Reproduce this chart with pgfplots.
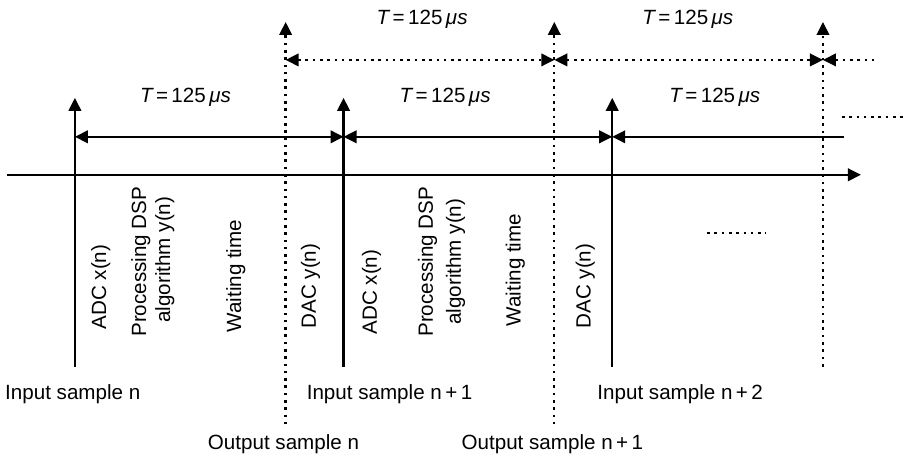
\documentclass[border=0pt]{standalone}
\usepackage{pgfplots}
\pgfplotsset{compat=1.18}
\usepackage{fontspec}
\setmainfont{Liberation Sans}
\usetikzlibrary{arrows.meta}

% pixel-space coordinates of the timing diagram (y measured downwards)
\pgfplotstableread{
x y
7 175
862 175
}\timeaxis

\begin{document}
\begin{tikzpicture}[
    lbl/.style={font=\fontsize{20.7}{24}\selectfont, inner sep=0pt},
    dots/.style={dash pattern=on 2.6bp off 4.7bp}
  ]
  \begin{axis}[
      x=1bp, y=1bp, y dir=reverse,
      xmin=0, xmax=905, ymin=0, ymax=455,
      hide axis, clip=false, no markers,
      every axis plot/.append style={black, line width=2.3bp,
        >={Triangle[length=13bp,width=12.5bp]}}
    ]
    % frame of the picture (invisible)
    \addplot[draw=none] coordinates {(0,0) (905,455)};

    % time axis
    \addplot[->] table {\timeaxis};

    % input samples (solid)
    \addplot[->] coordinates {(75,367) (75,98)};
    \addplot[->] coordinates {(344,367) (344,98)};
    \addplot[->] coordinates {(613,367) (613,98)};

    % output samples (dotted)
    \addplot[dots,->] coordinates {(286,425) (286,22)};
    \addplot[dots,->] coordinates {(555,425) (555,22)};
    \addplot[dots,->] coordinates {(824,367) (824,22)};

    % input periods
    \addplot[<->] coordinates {(75,137) (344,137)};
    \addplot[<->] coordinates {(344,137) (613,137)};
    \addplot[<-] coordinates {(613,137) (845,137)};

    % output periods
    \addplot[dots,<->] coordinates {(286,60) (555,60)};
    \addplot[dots,<->] coordinates {(555,60) (824,60)};
    \addplot[dots,<-] coordinates {(824,60) (877,60)};

    % continuation dots
    \addplot[dots] coordinates {(843,117) (905,117)};
    \addplot[dots] coordinates {(708,233) (767,233)};

    % period labels
    \node[lbl, anchor=base west] at (140,103) {{\itshape T}\,=\,125\,{\itshape μs}};
    \node[lbl, anchor=base west] at (400,103) {{\itshape T}\,=\,125\,{\itshape μs}};
    \node[lbl, anchor=base west] at (670,103) {{\itshape T}\,=\,125\,{\itshape μs}};
    \node[lbl, anchor=base west] at (377,25) {{\itshape T}\,=\,125\,{\itshape μs}};
    \node[lbl, anchor=base west] at (643,25) {{\itshape T}\,=\,125\,{\itshape μs}};

    % phase labels
    \node[lbl, rotate=90] at (101,287.5) {ADC x(n)};
    \node[lbl, rotate=90] at (141,262) {Processing DSP};
    \node[lbl, rotate=90] at (165,260) {algorithm y(n)};
    \node[lbl, rotate=90] at (236,276.5) {Waiting time};
    \node[lbl, rotate=90] at (311,286.5) {DAC y(n)};
    \node[lbl, rotate=90] at (372,292.5) {ADC x(n)};
    \node[lbl, rotate=90] at (428,262) {Processing DSP};
    \node[lbl, rotate=90] at (456,262) {algorithm y(n)};
    \node[lbl, rotate=90] at (516,270.5) {Waiting time};
    \node[lbl, rotate=90] at (586,286.5) {DAC y(n)};

    % sample labels
    \node[lbl, anchor=base west] at (5,400) {Input sample n};
    \node[lbl, anchor=base west] at (307,400) {Input sample n\,+\,1};
    \node[lbl, anchor=base west] at (598,400) {Input sample n\,+\,2};
    \node[lbl, anchor=base west] at (208,450) {Output sample n};
    \node[lbl, anchor=base west] at (462,450) {Output sample n\,+\,1};
  \end{axis}
\end{tikzpicture}
\end{document}
